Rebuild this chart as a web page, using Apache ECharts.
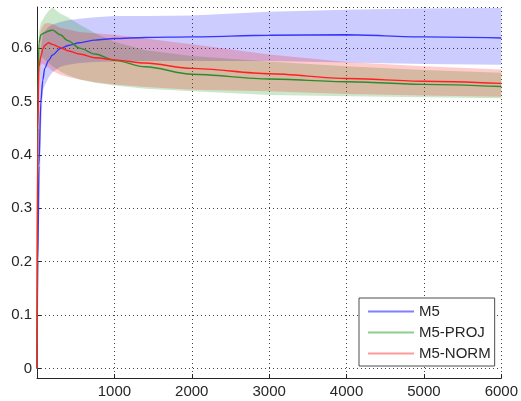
<!DOCTYPE html>
<html>
<head>
<meta charset="utf-8">
<script src="https://cdn.jsdelivr.net/npm/echarts@6/dist/echarts.min.js"></script>
<style>
html,body{margin:0;padding:0;background:#fff;}
#chart{width:521px;height:401px;}
</style>
</head>
<body>
<div id="chart"></div>
<script>
// Sample positions (iterations)
const X = [0, 10, 25, 50, 75, 100, 150, 200, 300, 400, 550, 750, 1000, 1400, 2000, 3000, 4000, 5000, 6000];

// M5
const m5Mean  = [0, 0.20, 0.38, 0.50, 0.54, 0.562, 0.577, 0.587, 0.599, 0.605, 0.610, 0.615, 0.618, 0.620, 0.621, 0.624, 0.625, 0.621, 0.619];
const m5Upper = [0.03, 0.30, 0.50, 0.60, 0.626, 0.632, 0.640, 0.644, 0.649, 0.652, 0.655, 0.658, 0.660, 0.660, 0.661, 0.668, 0.672, 0.674, 0.675];
const m5Lower = [0, 0.10, 0.26, 0.44, 0.52, 0.53, 0.545, 0.555, 0.565, 0.569, 0.572, 0.574, 0.575, 0.576, 0.576, 0.576, 0.573, 0.570, 0.569];

// M5-PROJ
const projMean  = [0, 0.50, 0.61, 0.625, 0.627, 0.629, 0.632, 0.634, 0.625, 0.614, 0.600, 0.589, 0.577, 0.565, 0.551, 0.542, 0.537, 0.532, 0.528];
const projUpper = [0.02, 0.55, 0.63, 0.648, 0.653, 0.660, 0.670, 0.676, 0.665, 0.658, 0.644, 0.628, 0.612, 0.596, 0.585, 0.575, 0.566, 0.559, 0.554];
const projLower = [0, 0.40, 0.55, 0.58, 0.582, 0.578, 0.572, 0.566, 0.556, 0.549, 0.541, 0.535, 0.530, 0.524, 0.519, 0.512, 0.510, 0.508, 0.506];

// M5-NORM
const normMean  = [0, 0.45, 0.565, 0.585, 0.598, 0.605, 0.610, 0.607, 0.601, 0.595, 0.589, 0.582, 0.578, 0.572, 0.562, 0.552, 0.543, 0.538, 0.534];
const normUpper = [0.02, 0.52, 0.61, 0.635, 0.642, 0.646, 0.647, 0.645, 0.638, 0.635, 0.630, 0.628, 0.625, 0.618, 0.607, 0.588, 0.574, 0.566, 0.560];
const normLower = [0, 0.35, 0.52, 0.568, 0.571, 0.568, 0.563, 0.557, 0.550, 0.546, 0.541, 0.536, 0.532, 0.527, 0.522, 0.519, 0.514, 0.511, 0.509];

const xTicks = [1000, 2000, 3000, 4000, 5000, 6000];
const yTickLabels = ['0', '0.1', '0.2', '0.3', '0.4', '0.5', '0.6'];

const seriesNames = ['M5', 'M5-PROJ', 'M5-NORM'];

const FONT = "'Liberation Sans', Arial, sans-serif";
const TXT = '#262626';

function pairs(ys) { return X.map((x, i) => [x, ys[i]]); }

function band(name, lower, upper, fill) {
  return {
    type: 'custom',
    name: name,
    silent: true,
    clip: true,
    encode: { x: 0, y: 1 },
    data: [[X[0], lower[0]]],
    renderItem: function (params, api) {
      const pts = [];
      for (let i = 0; i < X.length; i++) pts.push(api.coord([X[i], upper[i]]));
      for (let i = X.length - 1; i >= 0; i--) pts.push(api.coord([X[i], lower[i]]));
      const cs = params.coordSys;
      return {
        type: 'polygon',
        shape: { points: echarts.graphic.clipPointsByRect(pts, cs) },
        style: { fill: fill, stroke: null }
      };
    },
    z: 2
  };
}

function line(name, ys, color) {
  return {
    type: 'line',
    name: name,
    data: pairs(ys),
    showSymbol: false,
    symbol: 'none',
    smooth: 0.3,
    smoothMonotone: 'x',
    lineStyle: { color: color, width: 1.4 },
    itemStyle: { color: color },
    z: 3
  };
}

const chart = echarts.init(document.getElementById('chart'), null, { renderer: 'canvas' });
chart.setOption({
  animation: false,
  backgroundColor: '#fff',
  textStyle: { fontFamily: FONT },
  grid: { left: 37, right: 16, top: 7, bottom: 23, containLabel: false },
  xAxis: {
    type: 'value',
    min: 0, max: 6000, interval: 1000,
    axisLine: { show: true, onZero: false, lineStyle: { color: TXT, width: 1 } },
    axisTick: { show: true, inside: true, length: 4, lineStyle: { color: TXT } },
    axisLabel: {
      color: TXT, fontSize: 15, fontFamily: FONT, margin: 6,
      showMinLabel: false,
      formatter: function (v) { return xTicks.indexOf(v) >= 0 ? String(v) : ''; }
    },
    splitLine: { show: true, lineStyle: { color: '#444', type: [1, 3], width: 1 } }
  },
  yAxis: {
    type: 'value',
    min: -0.018, max: 0.677, splitNumber: 7,
    axisLine: { show: true, onZero: false, lineStyle: { color: TXT, width: 1 } },
    axisTick: { show: true, inside: true, length: 4, lineStyle: { color: TXT } },
    axisLabel: {
      color: TXT, fontSize: 15, fontFamily: FONT, margin: 5,
      showMinLabel: false, showMaxLabel: false,
      formatter: function (v) {
        const s = String(Math.round(v * 10) / 10);
        return (Math.abs(v * 10 - Math.round(v * 10)) < 1e-6 && yTickLabels.indexOf(s) >= 0) ? s : '';
      }
    },
    splitLine: { show: true, lineStyle: { color: '#444', type: [1, 3], width: 1 } }
  },
  legend: {
    orient: 'vertical',
    left: 359, top: 298,
    padding: [6, 4, 5, 9],
    itemGap: 6,
    itemWidth: 46, itemHeight: 2,
    backgroundColor: '#fff',
    borderColor: '#4d4d4d', borderWidth: 1,
    textStyle: { color: TXT, fontSize: 15, fontFamily: FONT },
    data: [
      { name: seriesNames[0], icon: 'rect', itemStyle: { color: '#8080ff' } },
      { name: seriesNames[1], icon: 'rect', itemStyle: { color: '#8fcc8f' } },
      { name: seriesNames[2], icon: 'rect', itemStyle: { color: '#ff9a9a' } }
    ]
  },
  series: [
    band('M5 band', m5Lower, m5Upper, 'rgba(0,0,255,0.2)'),
    band('M5-PROJ band', projLower, projUpper, 'rgba(0,140,0,0.2)'),
    band('M5-NORM band', normLower, normUpper, 'rgba(255,0,0,0.2)'),
    line(seriesNames[0], m5Mean, '#3535ff'),
    line(seriesNames[1], projMean, '#2f8a2f'),
    line(seriesNames[2], normMean, '#ff2020')
  ]
});
</script>
</body>
</html>
